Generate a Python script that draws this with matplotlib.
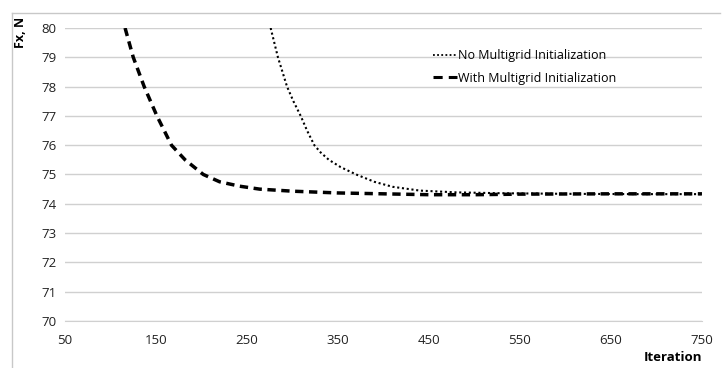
import matplotlib.pyplot as plt
from matplotlib.lines import Line2D

plt.rcParams['font.family'] = ['Open Sans', 'DejaVu Sans']

# No Multigrid Initialization (dotted)
no_mg_iter = [276, 284, 294, 301, 309, 316, 324, 331, 340, 353, 370, 390, 410, 440, 480, 530, 600, 680, 750]
no_mg_fx = [80.0, 79.0, 78.0, 77.5, 77.0, 76.5, 76.0, 75.75, 75.5, 75.25, 75.0, 74.75, 74.58, 74.45, 74.39, 74.36, 74.34, 74.33, 74.33]

# With Multigrid Initialization (dashed)
mg_iter = [116, 125, 137, 151, 167, 182, 202, 220, 242, 264, 300, 350, 400, 450, 500, 550, 650, 750]
mg_fx = [80.0, 79.0, 78.0, 77.0, 76.0, 75.5, 75.0, 74.75, 74.6, 74.5, 74.43, 74.37, 74.34, 74.31, 74.31, 74.33, 74.34, 74.34]

xticks = [50, 150, 250, 350, 450, 550, 650, 750]
yticks = [70, 71, 72, 73, 74, 75, 76, 77, 78, 79, 80]

fig = plt.figure(figsize=(7.23, 3.68), dpi=100)
ax = fig.add_axes([0.0899, 0.1277, 0.881, 0.7963])

dot_style = (0, (1, 1.3))
dash_style = (0, (2.4, 1.6))

ax.plot(no_mg_iter, no_mg_fx, color='black', linestyle=dot_style, linewidth=1.5,
        label='No Multigrid Initialization')
ax.plot(mg_iter, mg_fx, color='black', linestyle=dash_style, linewidth=2.5,
        label='With Multigrid Initialization')

ax.set_xlim(50, 750)
ax.set_ylim(70, 80)
ax.set_xticks(xticks)
ax.set_yticks(yticks)
ax.tick_params(length=0, labelsize=9.5, colors='#222222', pad=6)
ax.tick_params(axis='x', pad=9)
ax.grid(axis='y', color='#d0d0d0', linewidth=1)
ax.set_axisbelow(True)
for s in ['top', 'right', 'left']:
    ax.spines[s].set_visible(False)
ax.spines['bottom'].set_color('#d0d0d0')

fig.text(0.971, 0.012, 'Iteration', ha='right', va='bottom', fontsize=9.5, fontweight='bold')
fig.text(0.028, 0.955, 'Fx, N', ha='center', va='top', rotation=90, fontsize=9, fontweight='bold')

handles = [Line2D([], [], color='black', linestyle=dot_style, linewidth=1.3),
           Line2D([], [], color='black', linestyle=(0, (3, 2)), linewidth=2.2)]
ax.legend(handles, ['No Multigrid Initialization', 'With Multigrid Initialization'],
          loc='upper left', bbox_to_anchor=(0.56, 0.965), frameon=False,
          handlelength=1.9, handletextpad=0.1, fontsize=9, labelspacing=0.75)

# outer chart border
fig.add_artist(Line2D([0.0166, 0.0166], [0.0, 0.9647], color='#c8c8c8', linewidth=1))
fig.add_artist(Line2D([0.0166, 0.996], [0.9647, 0.9647], color='#c8c8c8', linewidth=1))

fig.savefig('out.png', dpi=100)
